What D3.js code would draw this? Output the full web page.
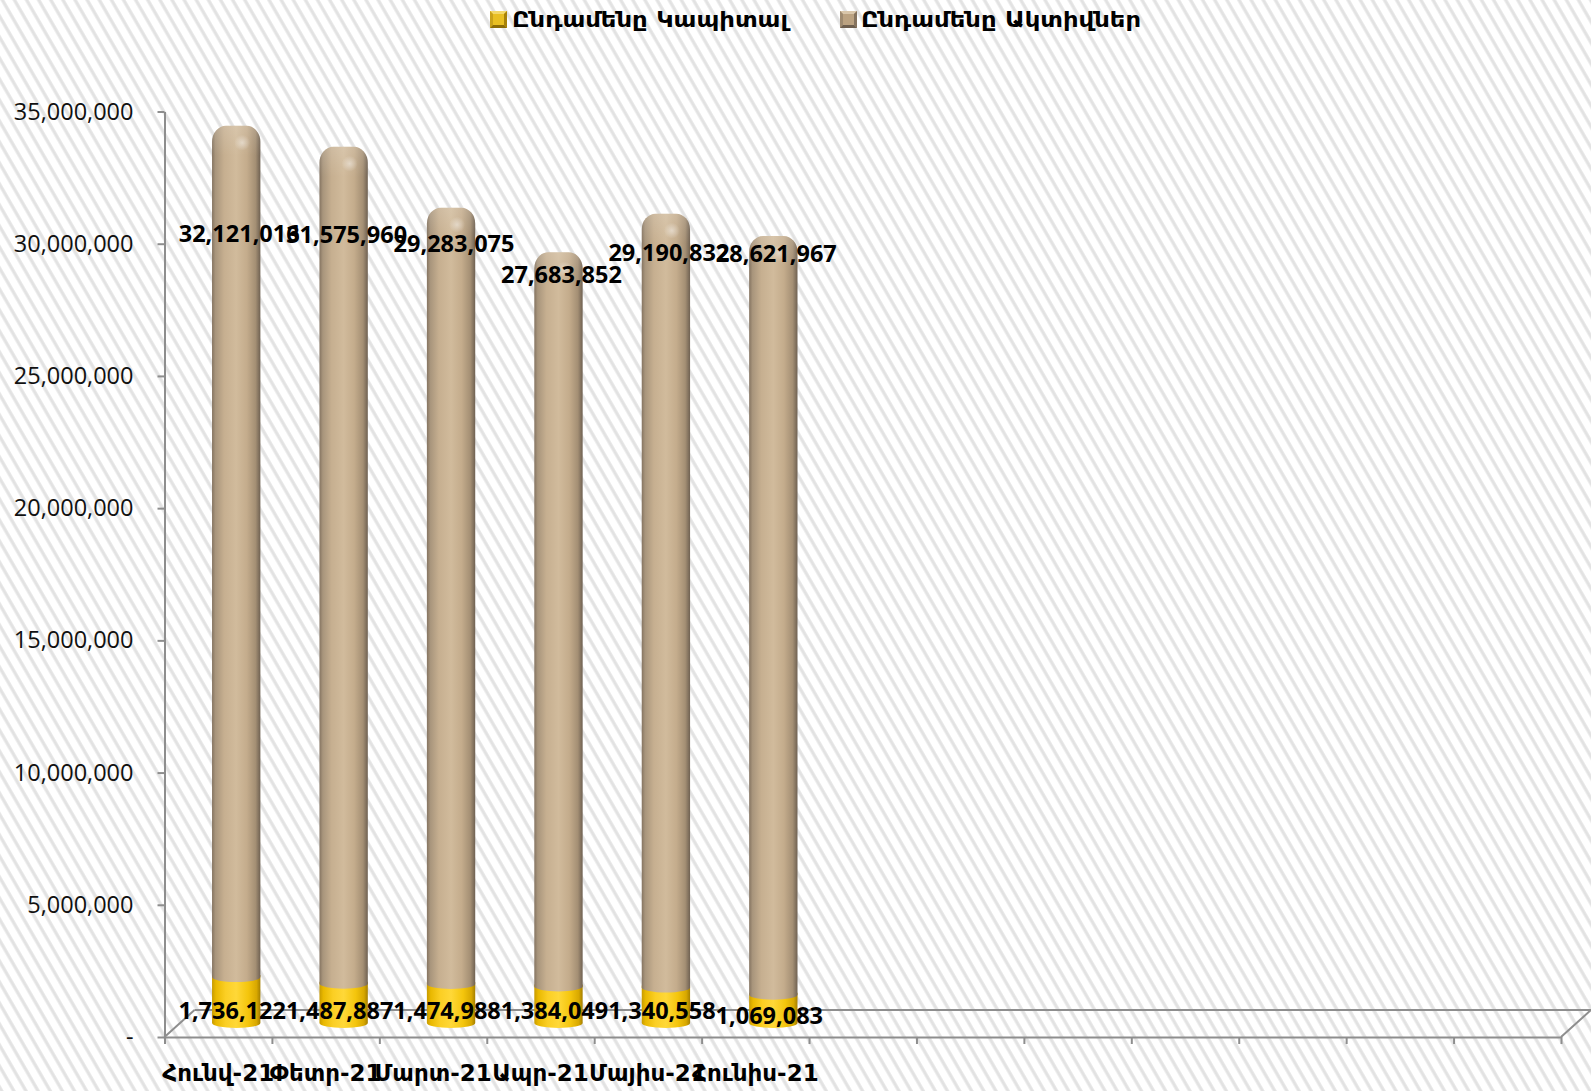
<!DOCTYPE html>
<html>
<head>
<meta charset="utf-8">
<script src="https://cdn.jsdelivr.net/npm/d3@7"></script>
<style>
  html, body { margin: 0; padding: 0; background: #fff; }
  svg { display: block; }
</style>
</head>
<body>
<svg id="chart" width="1591" height="1091"></svg>
<script>
// ---------------- data ----------------
const months = ["Հունվ-21", "Փետր-21", "Մարտ-21", "Ապր-21", "Մայիս-21", "Հունիս-21"];
const slotCount = 13; // category slots on the axis (6 filled, 7 empty)
const capital = [1736122, 1487887, 1474988, 1384049, 1340558, 1069083];
const assets = [32121016, 31575960, 29283075, 27683852, 29190832, 28621967];
const yTicks = [0, 5000000, 10000000, 15000000, 20000000, 25000000, 30000000, 35000000];
const seriesNames = ["Ընդամենը Կապիտալ", "Ընդամենը Ակտիվներ"];
// where the data labels sit (value units)
const assetLabelAt = [30380000, 30350000, 30000000, 28820000, 29650000, 29610000];
const capitalLabelAt = [1000000, 1000000, 1000000, 1000000, 1000000, 800000];

// ---------------- setup ----------------
const W = 1591, H = 1091;
const svg = d3.select("#chart");
const defs = svg.append("defs");

const DX = 30, DY = 27;          // 3D floor depth
const left = 164.5, right = 1561;
const x = d3.scaleBand().domain(d3.range(slotCount)).range([left, right]).paddingInner(0).paddingOuter(0);
const xb = d3.scaleLinear().domain([0, slotCount]).range([left, right]);
const y = d3.scaleLinear().domain([0, 35000000]).range([1037, 111.5]);

// hatch background
const pat = defs.append("pattern")
  .attr("id", "hatch").attr("patternUnits", "userSpaceOnUse")
  .attr("width", 10.5).attr("height", 10.5)
  .attr("patternTransform", "rotate(-30)");
pat.append("rect").attr("width", 10.5).attr("height", 10.5).attr("fill", "#ffffff");
pat.append("line").attr("x1", 2).attr("y1", 0).attr("x2", 2).attr("y2", 10.5)
  .attr("stroke", "#e2e2e2").attr("stroke-width", 3.2);
svg.append("rect").attr("width", W).attr("height", H).attr("fill", "url(#hatch)");

// gradients
function hGrad(id, stops) {
  const g = defs.append("linearGradient").attr("id", id)
    .attr("x1", "0%").attr("x2", "100%").attr("y1", "0%").attr("y2", "0%");
  stops.forEach(s => g.append("stop").attr("offset", s[0]).attr("stop-color", s[1]));
}
hGrad("tanGrad", [["0%", "#857461"], ["7%", "#a8957c"], ["25%", "#c6af90"], ["50%", "#d1bb9c"],
                  ["72%", "#c4ac8c"], ["90%", "#a48f74"], ["100%", "#6f6152"]]);
hGrad("yelGrad", [["0%", "#c79a00"], ["8%", "#e9b800"], ["28%", "#fbcf24"], ["50%", "#ffd838"],
                  ["75%", "#f4c50c"], ["92%", "#d8a800"], ["100%", "#a57f00"]]);
const rg = defs.append("radialGradient").attr("id", "shine");
rg.append("stop").attr("offset", "0%").attr("stop-color", "#fff").attr("stop-opacity", 0.45);
rg.append("stop").attr("offset", "100%").attr("stop-color", "#fff").attr("stop-opacity", 0);
const tg = defs.append("linearGradient").attr("id", "capShade")
  .attr("x1", "0%").attr("x2", "0%").attr("y1", "0%").attr("y2", "100%");
tg.append("stop").attr("offset", "0%").attr("stop-color", "#fff").attr("stop-opacity", 0.15);
tg.append("stop").attr("offset", "100%").attr("stop-color", "#fff").attr("stop-opacity", 0);

// ---------------- floor & axes ----------------
const axisColor = "#8e8e8e";
const floor = svg.append("g").attr("stroke", axisColor).attr("stroke-width", 2).attr("fill", "none");
floor.append("line").attr("x1", xb(0)).attr("y1", y(0)).attr("x2", xb(0) + DX).attr("y2", y(0) - DY);
floor.append("line").attr("x1", xb(0) + DX).attr("y1", y(0) - DY).attr("x2", xb(slotCount) + DX).attr("y2", y(0) - DY);
floor.append("line").attr("x1", xb(slotCount)).attr("y1", y(0)).attr("x2", xb(slotCount) + DX).attr("y2", y(0) - DY);

const yAxis = svg.append("g").attr("transform", `translate(${left},0)`)
  .call(d3.axisLeft(y).tickValues(yTicks).tickSize(7).tickSizeOuter(0).tickPadding(24)
    .tickFormat(d => d === 0 ? "-" : d3.format(",")(d)));
yAxis.selectAll("path, line").attr("stroke", axisColor).attr("stroke-width", 2);
yAxis.selectAll("text").attr("font-family", "'Open Sans', sans-serif").attr("font-size", 23.5)
  .attr("fill", "#111");

const xAxis = svg.append("g").attr("transform", `translate(0,${y(0)})`)
  .call(d3.axisBottom(xb).tickValues(d3.range(slotCount + 1)).tickSize(7).tickSizeOuter(0).tickFormat(""));
xAxis.selectAll("path, line").attr("stroke", axisColor).attr("stroke-width", 2);

// ---------------- bars (cylinders) ----------------
const offX = 18, offY = -14;
const bw = x.bandwidth() * 0.45;
const eRy = 5, rx = 14, ry = 16;

const bars = svg.append("g");
months.forEach((m, i) => {
  const cx = x(i) + x.bandwidth() / 2 + offX;
  const l = cx - bw / 2, r = cx + bw / 2;
  const yb = y(0) + offY;
  const yc = y(capital[i]) + offY;
  const yt = y(capital[i] + assets[i]) + offY - 2;
  // capital (bottom segment)
  bars.append("path")
    .attr("d", `M${l},${yc - 2} H${r} V${yb} A${bw / 2},${eRy} 0 0 1 ${l},${yb} Z`)
    .attr("fill", "url(#yelGrad)");
  // assets (stacked top segment)
  bars.append("path")
    .attr("d", `M${l},${yc} V${yt + ry} A${rx},${ry} 0 0 1 ${l + rx},${yt} H${r - rx} A${rx},${ry} 0 0 1 ${r},${yt + ry} V${yc} A${bw / 2},${eRy} 0 0 1 ${l},${yc} Z`)
    .attr("fill", "url(#tanGrad)");
  bars.append("path")
    .attr("d", `M${l},${yt + 30} V${yt + ry} A${rx},${ry} 0 0 1 ${l + rx},${yt} H${r - rx} A${rx},${ry} 0 0 1 ${r},${yt + ry} V${yt + 30} Z`)
    .attr("fill", "url(#capShade)");
  bars.append("ellipse").attr("cx", cx + 6).attr("cy", yt + 17).attr("rx", 8).attr("ry", 8)
    .attr("fill", "url(#shine)");
});

// ---------------- data labels ----------------
const lab = svg.append("g").attr("font-family", "'Open Sans', sans-serif").attr("font-size", 23.5)
  .attr("font-weight", 700).attr("fill", "#000").attr("text-anchor", "middle");
months.forEach((m, i) => {
  const cx = x(i) + x.bandwidth() / 2 + offX;
  lab.append("text").attr("x", cx + 3).attr("y", y(assetLabelAt[i]))
    .attr("dy", "0.35em").text(d3.format(",")(assets[i]));
  lab.append("text").attr("x", cx - 4).attr("y", y(capitalLabelAt[i]))
    .attr("dy", "0.35em").text(d3.format(",")(capital[i]));
});

// ---------------- category labels ----------------
svg.append("g").attr("font-family", "'DejaVu Sans', sans-serif").attr("font-size", 23)
  .attr("font-weight", 700).attr("fill", "#000").attr("text-anchor", "middle")
  .selectAll("text").data(months).join("text")
  .attr("x", (d, i) => x(i) + x.bandwidth() / 2)
  .attr("y", 1081)
  .text(d => d);

// ---------------- legend ----------------
function marker(g, x0, y0, s, cols) {
  const c = s / 2;
  g.append("rect").attr("x", x0).attr("y", y0).attr("width", s).attr("height", s).attr("fill", cols[4]);
  const tri = [
    [[0, 0], [s, 0], [c, c]],
    [[0, 0], [0, s], [c, c]],
    [[s, 0], [s, s], [c, c]],
    [[0, s], [s, s], [c, c]]
  ];
  tri.forEach((t, k) => g.append("path")
    .attr("d", "M" + t.map(p => `${x0 + p[0]},${y0 + p[1]}`).join("L") + "Z")
    .attr("fill", cols[k]));
  g.append("rect").attr("x", x0 + 3).attr("y", y0 + 3).attr("width", s - 6).attr("height", s - 6).attr("fill", cols[4]);
}
const leg = svg.append("g");
marker(leg, 490, 11, 17, ["#f3d86a", "#c9a21a", "#a88208", "#8c6c06", "#e9bf22"]);
marker(leg, 840, 11, 17, ["#d9c6aa", "#9e8a70", "#85735e", "#6d5e4e", "#bba281"]);
const legFont = { "font-family": "'DejaVu Sans', sans-serif", "font-size": 21, "font-weight": 700 };
const lt1 = leg.append("text").attr("x", 512).attr("y", 27).text(seriesNames[0]);
const lt2 = leg.append("text").attr("x", 861).attr("y", 27).text(seriesNames[1]);
[lt1, lt2].forEach(t => Object.entries(legFont).forEach(([k, v]) => t.attr(k, v)));
lt1.attr("textLength", 276).attr("lengthAdjust", "spacingAndGlyphs");
lt2.attr("textLength", 280).attr("lengthAdjust", "spacingAndGlyphs");
</script>
</body>
</html>
